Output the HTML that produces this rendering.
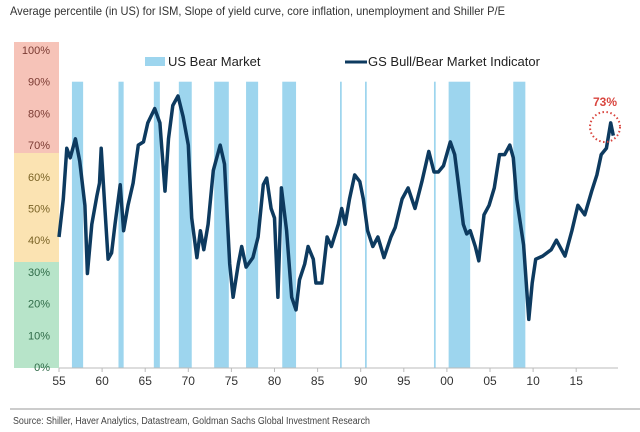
<!DOCTYPE html>
<html><head><meta charset="utf-8"><style>
html,body{margin:0;padding:0;background:#fff;}
svg{display:block;font-family:"Liberation Sans",sans-serif;}
</style></head><body>
<svg id="chart" width="640" height="432" viewBox="0 0 640 432">
<text x="10" y="15" font-size="12" fill="#333" textLength="495" lengthAdjust="spacingAndGlyphs">Average percentile (in US) for ISM, Slope of yield curve, core inflation, unemployment and Shiller P/E</text>
<rect x="14" y="42" width="45" height="111" fill="#f6c3b8"/>
<rect x="14" y="153" width="45" height="109" fill="#fbe3b2"/>
<rect x="14" y="262" width="45" height="106" fill="#b7e4c9"/>
<g id="bears"></g>
<g id="yticks"></g>
<line x1="59" y1="368" x2="618" y2="368" stroke="#bbb" stroke-width="1"/>
<g id="xticks"></g>
<path id="line" fill="none" stroke="#0d3a5f" stroke-width="3.5" stroke-linejoin="round"/>
<rect x="145" y="57" width="20" height="9" fill="#9dd5ee"/>
<text x="168" y="66" font-size="13" fill="#222">US Bear Market</text>
<line x1="345" y1="62" x2="367" y2="62" stroke="#0d3a5f" stroke-width="3"/>
<text x="368" y="66" font-size="13" fill="#222">GS Bull/Bear Market Indicator</text>
<text x="605" y="106" font-size="12" font-weight="bold" fill="#d9463f" text-anchor="middle">73%</text>
<circle cx="605" cy="127" r="15" fill="none" stroke="#d9463f" stroke-width="2" stroke-dasharray="1.5 2.5"/>
<line x1="10" y1="409" x2="640" y2="409" stroke="#999" stroke-width="1"/>
<text x="13" y="424" font-size="10" fill="#444" textLength="357" lengthAdjust="spacingAndGlyphs">Source: Shiller, Haver Analytics, Datastream, Goldman Sachs Global Investment Research</text>
</svg>
<script>
const years=[55,55.5,55.9,56.3,56.9,57.4,58,58.3,58.8,59.4,59.7,59.9,60.3,60.7,61.1,61.5,62.1,62.5,63,63.6,64.2,64.8,65.3,66.1,66.7,67.3,67.7,68.2,68.8,69.4,70,70.4,71,71.4,71.8,72.3,72.9,73.7,74.2,74.8,75.2,75.8,76.2,76.7,77.5,78.1,78.7,79.1,79.6,80,80.4,80.8,81.4,82,82.5,82.9,83.5,83.9,84.5,84.8,85.5,86.1,86.6,87.4,87.8,88.2,88.7,89.3,89.9,90.3,90.8,91.4,92,92.7,93.5,94,94.8,95.5,96.3,97.1,97.9,98.5,99,99.6,100.4,100.9,101.3,101.9,102.3,102.7,103.3,103.7,104.3,104.9,105.5,106.1,106.7,107.3,107.7,108.1,108.9,109.5,109.9,110.3,111.1,112.1,112.7,113.7,114.5,115.2,116,116.8,117.4,117.9,118.5,119,119.3];
const values=[41,53,69,66,72,65,51,29.5,45,54,58,69,51,34,36,45,57.5,43,51,58,70,71,77,81.5,77,55.5,72,82.5,85.5,79,70,47,34.5,43,37,45,62,70,64,32.5,22,32.5,38,31.5,34.5,41,57.5,59.6,50,47,22,56.5,43,22,18,27.5,32.5,38,34,26.5,26.5,41,38,45,50,45,53,60.6,58.5,53,43,38,41,34.5,41,44,53,56.5,50,58.5,68,61.5,61.5,63.5,71,67,58.5,45,42,43,38,33.5,48,51,56.5,67,67,70,66,53,38.5,15,26.5,34,35,37,40,35,43,51,48,55.5,60.6,67,69,77,73];
const bearStart=[56.5,61.9,66.0,68.9,73.0,76.7,80.9,87.6,90.5,98.5,100.2,107.7];
const bearEnd=[57.8,62.5,66.7,70.4,74.7,78.1,82.5,87.8,90.7,98.7,102.7,109.1];
const xTickLabels=["55","60","65","70","75","80","85","90","95","00","05","10","15"];
const xTickYears=[55,60,65,70,75,80,85,90,95,100,105,110,115];
const yTicks=[0,10,20,30,40,50,60,70,80,90,100];
const NS="http://www.w3.org/2000/svg";
const X=y=>59+(y-55)*8.62;
const Y=v=>367-v*3.17;
const bg=document.getElementById('bears');
bearStart.forEach((s,i)=>{const r=document.createElementNS(NS,'rect');
r.setAttribute('x',X(s));r.setAttribute('width',Math.max(1.2,X(bearEnd[i])-X(s)));
r.setAttribute('y',Y(90));r.setAttribute('height',Y(0)-Y(90)+1);r.setAttribute('fill','#9dd5ee');


bg.appendChild(r);});
const yt=document.getElementById('yticks');
yTicks.forEach(v=>{const t=document.createElementNS(NS,'text');
t.setAttribute('x',50);t.setAttribute('y',Y(v)+4);t.setAttribute('text-anchor','end');t.setAttribute('font-size','11');
t.setAttribute('fill',v>=70?'#7a3a32':v>=40?'#7a6326':'#2e6a47');t.textContent=v+'%';


yt.appendChild(t);});
const xt=document.getElementById('xticks');
xTickYears.forEach((yr,i)=>{const l=document.createElementNS(NS,'line');
l.setAttribute('x1',X(yr));l.setAttribute('x2',X(yr));l.setAttribute('y1',368);l.setAttribute('y2',372);l.setAttribute('stroke','#bbb');


xt.appendChild(l);
const t=document.createElementNS(NS,'text');t.setAttribute('x',X(yr));t.setAttribute('y',385);t.setAttribute('text-anchor','middle');t.setAttribute('font-size','12');t.setAttribute('fill','#333');t.textContent=xTickLabels[i];


xt.appendChild(t);});
document.getElementById('line').setAttribute('d',years.map((y,i)=>(i?'L':'M')+X(y).toFixed(1)+','+Y(values[i]).toFixed(1)).join(''));
</script>
</body></html>
